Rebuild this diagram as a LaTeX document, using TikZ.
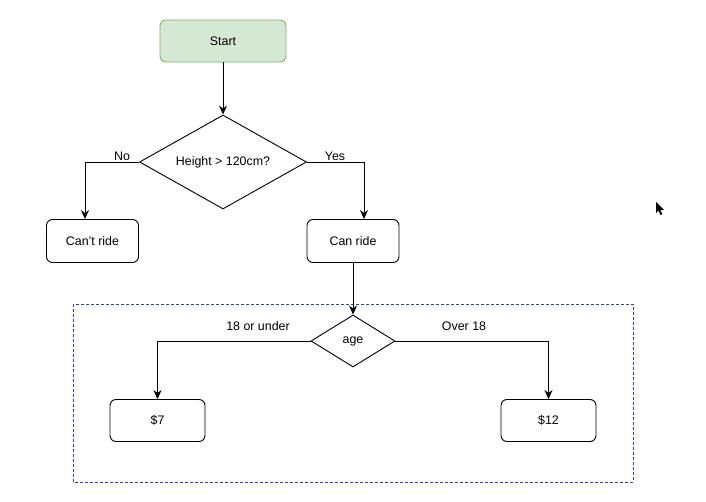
\documentclass[tikz,border=0pt]{standalone}
\usepackage{fontspec}
\setmainfont{Liberation Sans}
\usetikzlibrary{shapes.geometric,arrows.meta}
\definecolor{startfill}{HTML}{D5E8D4}
\definecolor{startline}{HTML}{82B366}
\definecolor{groupline}{HTML}{2F3FB5}
\tikzset{
  base/.style={font=\fontsize{12.4}{14}\selectfont, line width=0.9pt, inner sep=0pt},
  stepbox/.style={base, draw=black, fill=white, rounded corners=6pt, rectangle},
  startbox/.style={base, draw=startline, fill=startfill, rounded corners=6pt, rectangle},
  decision/.style={base, draw=black, fill=white, diamond, aspect=1.75},
  arr/.style={line width=0.9pt, -{Stealth[length=9pt,width=8pt,inset=3pt]}},
  lbl/.style={font=\fontsize{12.4}{14}\selectfont, inner sep=0pt}
}
\begin{document}
\begin{tikzpicture}[x=1pt,y=-1pt]
  \useasboundingbox (0,0) rectangle (706,502);
  \fill[white] (0,0) rectangle (706,502);

  % dashed group around the pricing step
  \draw[groupline, line width=0.9pt, dash pattern=on 3pt off 2pt] (73,304) rectangle (633,482);

  % nodes
  \node[startbox, minimum width=126pt, minimum height=42pt] (start) at (223,41) {Start};
  \node[decision, minimum width=167pt, minimum height=94pt] (height) at (223,162) {Height > 120cm?};
  \node[stepbox, minimum width=92pt, minimum height=43pt] (cant) at (92.5,241) {Can't ride};
  \node[stepbox, minimum width=92pt, minimum height=43pt] (can) at (353,241) {Can ride};
  \node[decision, minimum width=84pt, minimum height=52pt] (age) at (353,341) {age};
  \node[stepbox, minimum width=95pt, minimum height=42pt] (seven) at (157.5,420.5) {\$7};
  \node[stepbox, minimum width=95pt, minimum height=42pt] (twelve) at (548.5,420.5) {\$12};

  % connectors
  \draw[arr] (start.south) -- (height.north);
  \draw[arr] (height.west) -| ([xshift=-7.5pt]cant.north);
  \draw[arr] (height.east) -| ([xshift=11pt]can.north);
  \draw[arr] (can.south) -- (age.north);
  \draw[arr] (age.west) -| (seven.north);
  \draw[arr] (age.east) -| (twelve.north);

  % edge labels
  \node[lbl] (no) at (122,156) {No};
  \node[lbl] (yes) at (335,156) {Yes};
  \node[lbl] (under) at (258,326) {18 or under};
  \node[lbl] (over) at (464,326) {Over 18};

  % pointer
  \fill[black] (656,202) -- (656,213) -- (658.6,210.6) -- (660.5,215) -- (662.3,214.2) -- (660.4,209.9) -- (664,209.9) -- cycle;
\end{tikzpicture}
\end{document}
